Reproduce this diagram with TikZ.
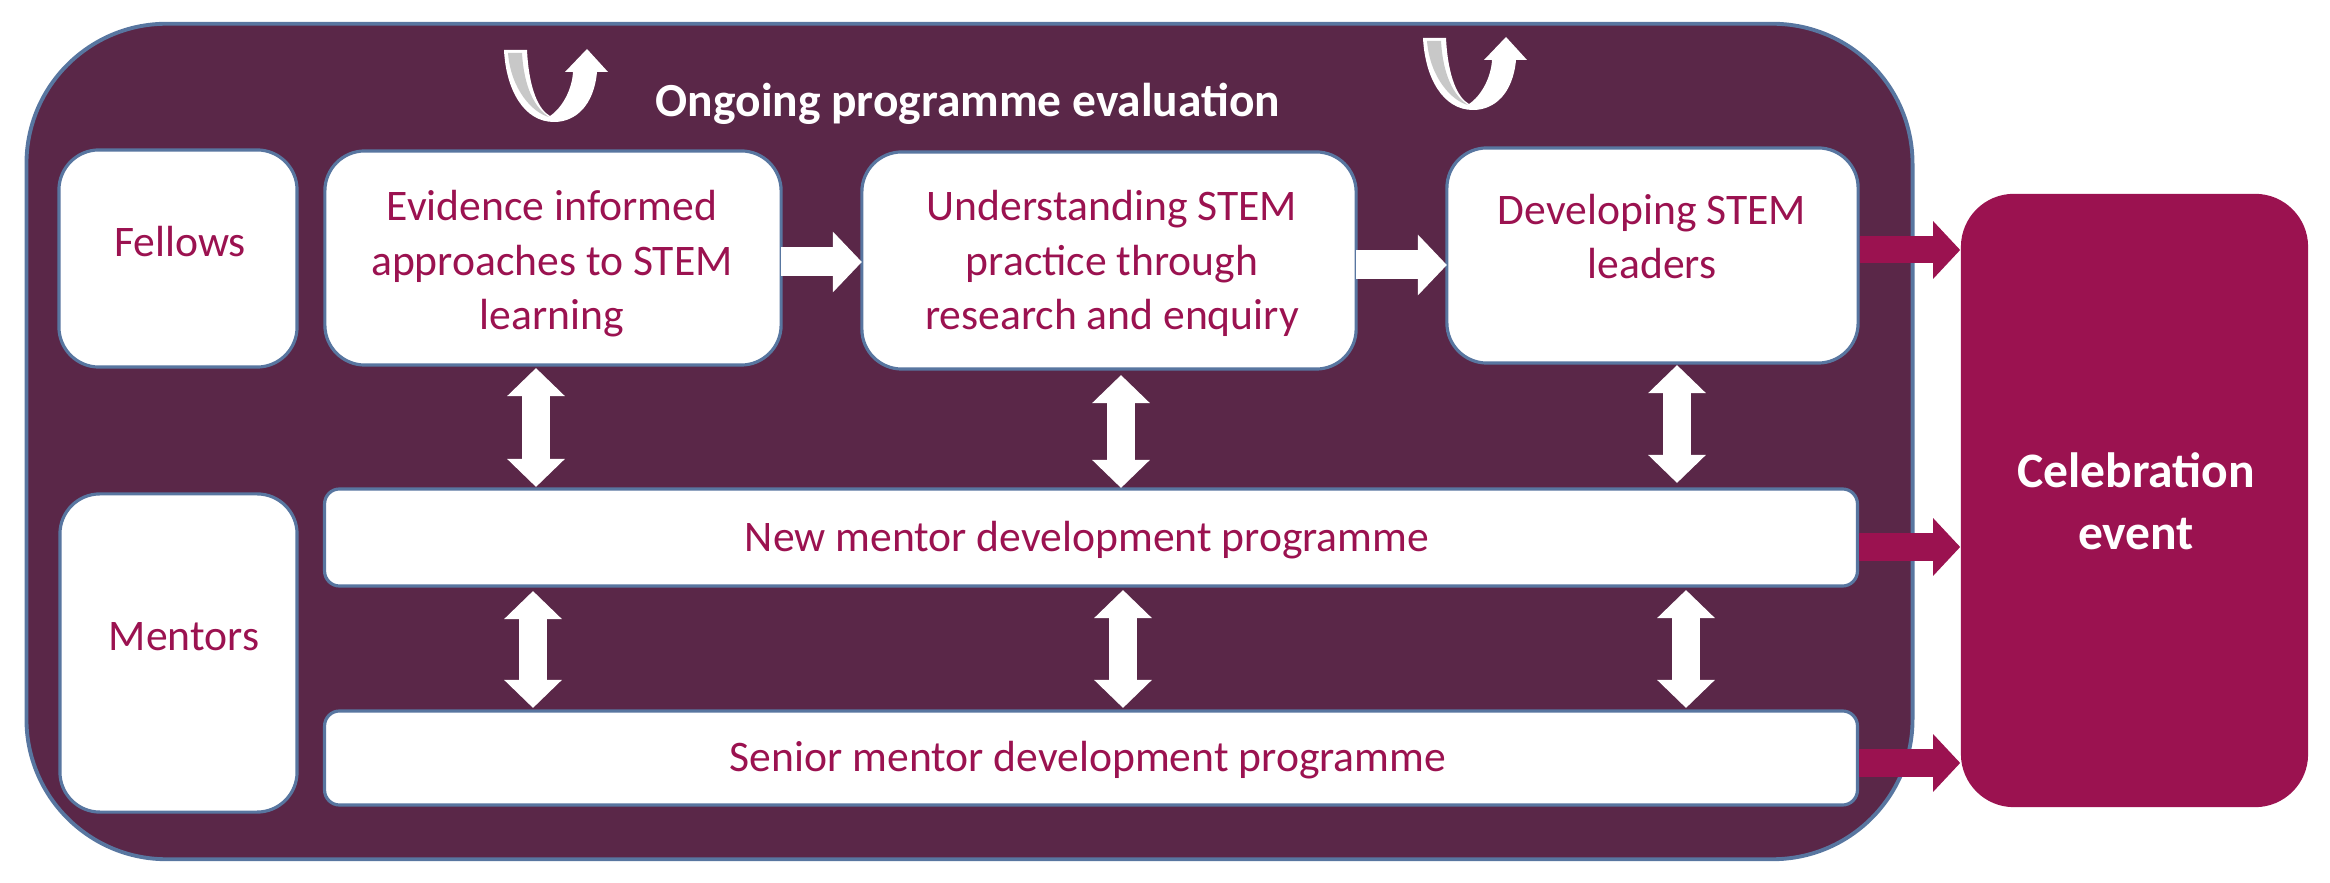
\documentclass[tikz,border=0pt]{standalone}
\usepackage{fontspec}
\setmainfont{Carlito}
\usetikzlibrary{arrows.meta}
\definecolor{bgpurple}{RGB}{90,39,72}
\definecolor{crim}{RGB}{155,18,80}
\definecolor{edgeblue}{RGB}{88,118,160}
\definecolor{ribgray}{RGB}{200,200,200}
\tikzset{
  uturn/.pic={
    \fill[white] (0,0) -- (23,0) .. controls (25,40) and (35,60) .. (46,66)
      .. controls (58,58) and (68,40) .. (69,22) -- (61,22) -- (83,-1) -- (104,22) -- (93,22)
      .. controls (90,55) and (72,72) .. (50,72) .. controls (20,72) and (2,40) .. (0,0) -- cycle;
    \fill[ribgray] (4,3) -- (18,3) .. controls (20,38) and (31,58) .. (45,67)
      .. controls (29,63) and (7,40) .. (4,3) -- cycle;
  }
}
\begin{document}
\begin{tikzpicture}[x=0.01cm,y=-0.01cm,
  box/.style={draw=edgeblue, line width=0.9pt, fill=white, rounded corners=0.4cm, inner sep=0pt, outer sep=0pt},
  bar/.style={box, rounded corners=0.15cm},
  txt/.style={text=crim, font=\fontsize{12.4}{15.6}\selectfont, align=center, anchor=base, inner sep=0pt},
  bartxt/.style={txt, font=\fontsize{12.4}{15}\selectfont},
  flow/.style={white, line width=0.29cm, -{Triangle[length=0.29cm,width=0.59cm]}},
  both/.style={white, line width=0.28cm, {Triangle[length=0.28cm,width=0.56cm]}-{Triangle[length=0.28cm,width=0.56cm]}},
  outarrow/.style={crim, line width=0.27cm, -{Triangle[length=0.27cm,width=0.56cm]}, shorten <=0.015cm},
]
\useasboundingbox (0,0) rectangle (2330,883);
% frame
\node[draw=edgeblue, line width=1.1pt, fill=bgpurple, rounded corners=1.4cm,
      minimum width=18.85cm, minimum height=8.35cm, inner sep=0pt] (frame) at (969.5,441.5) {};
% boxes
\node[box, minimum width=2.38cm, minimum height=2.17cm] (fel) at (178,258.5) {};
\node[box, minimum width=4.56cm, minimum height=2.14cm] (ev) at (553,258) {};
\node[box, minimum width=4.94cm, minimum height=2.17cm] (un) at (1109,260.5) {};
\node[box, minimum width=4.11cm, minimum height=2.15cm] (dev) at (1652.5,255.5) {};
\node[box, minimum width=2.37cm, minimum height=3.18cm] (men) at (178.5,653) {};
\node[bar, minimum width=15.32cm, minimum height=0.97cm] (nm) at (1091,537.5) {};
\node[bar, minimum width=15.32cm, minimum height=0.94cm] (sm) at (1091,758) {};
\node[fill=crim, rounded corners=0.53cm, inner sep=0pt, minimum width=3.47cm, minimum height=6.13cm] (cel) at (2134.5,500.5) {};
% texts (base anchor = baseline of the last line)
\node[txt] (felT) at (180,257) {Fellows};
\node[txt] (menT) at (184,651) {Mentors};
\node[txt] (evT) at (552,330) {Evidence informed\\approaches to STEM\\learning};
\node[txt] (unT) at (1112,330) {Understanding STEM\\practice through\\research and enquiry};
\node[txt] (devT) at (1652,279) {Developing STEM\\leaders};
\node[bartxt] (nmT) at (1087,552) {New mentor development programme};
\node[bartxt] (smT) at (1088,772) {Senior mentor development programme};
\node[txt, text=white, font=\bfseries\fontsize{13.5}{16}\selectfont] (title) at (968,117) {Ongoing programme evaluation};
\node[txt, text=white, font=\bfseries\fontsize{14.1}{17.8}\selectfont] (celT) at (2136,550) {Celebration\\event};
% flow arrows
\draw[flow] (ev.east |- 0,262) -- (un.west |- 0,262);
\draw[flow] (un.east |- 0,265) -- (dev.west |- 0,265);
% double arrows
\draw[both, shorten <=0.03cm, shorten >=0.02cm] (ev.south -| 536,0) -- (nm.north -| 536,0);
\draw[both, shorten <=0.06cm, shorten >=0.01cm] (un.south -| 1121,0) -- (nm.north -| 1121,0);
\draw[both, shorten <=0.02cm, shorten >=0.06cm] (dev.south -| 1677,0) -- (nm.north -| 1677,0);
\draw[both, shorten <=0.05cm, shorten >=0.03cm] (nm.south -| 533,0) -- (sm.north -| 533,0);
\draw[both, shorten <=0.04cm, shorten >=0.03cm] (nm.south -| 1123,0) -- (sm.north -| 1123,0);
\draw[both, shorten <=0.04cm, shorten >=0.03cm] (nm.south -| 1686,0) -- (sm.north -| 1686,0);
% outputs
\draw[outarrow] (dev.east |- 0,250) -- (cel.west |- 0,250);
\draw[outarrow] (nm.east |- 0,547) -- (cel.west |- 0,547);
\draw[outarrow] (sm.east |- 0,763) -- (cel.west |- 0,763);
% evaluation loops
\pic at (504,50) {uturn};
\pic at (1423,38) {uturn};
\end{tikzpicture}
\end{document}
